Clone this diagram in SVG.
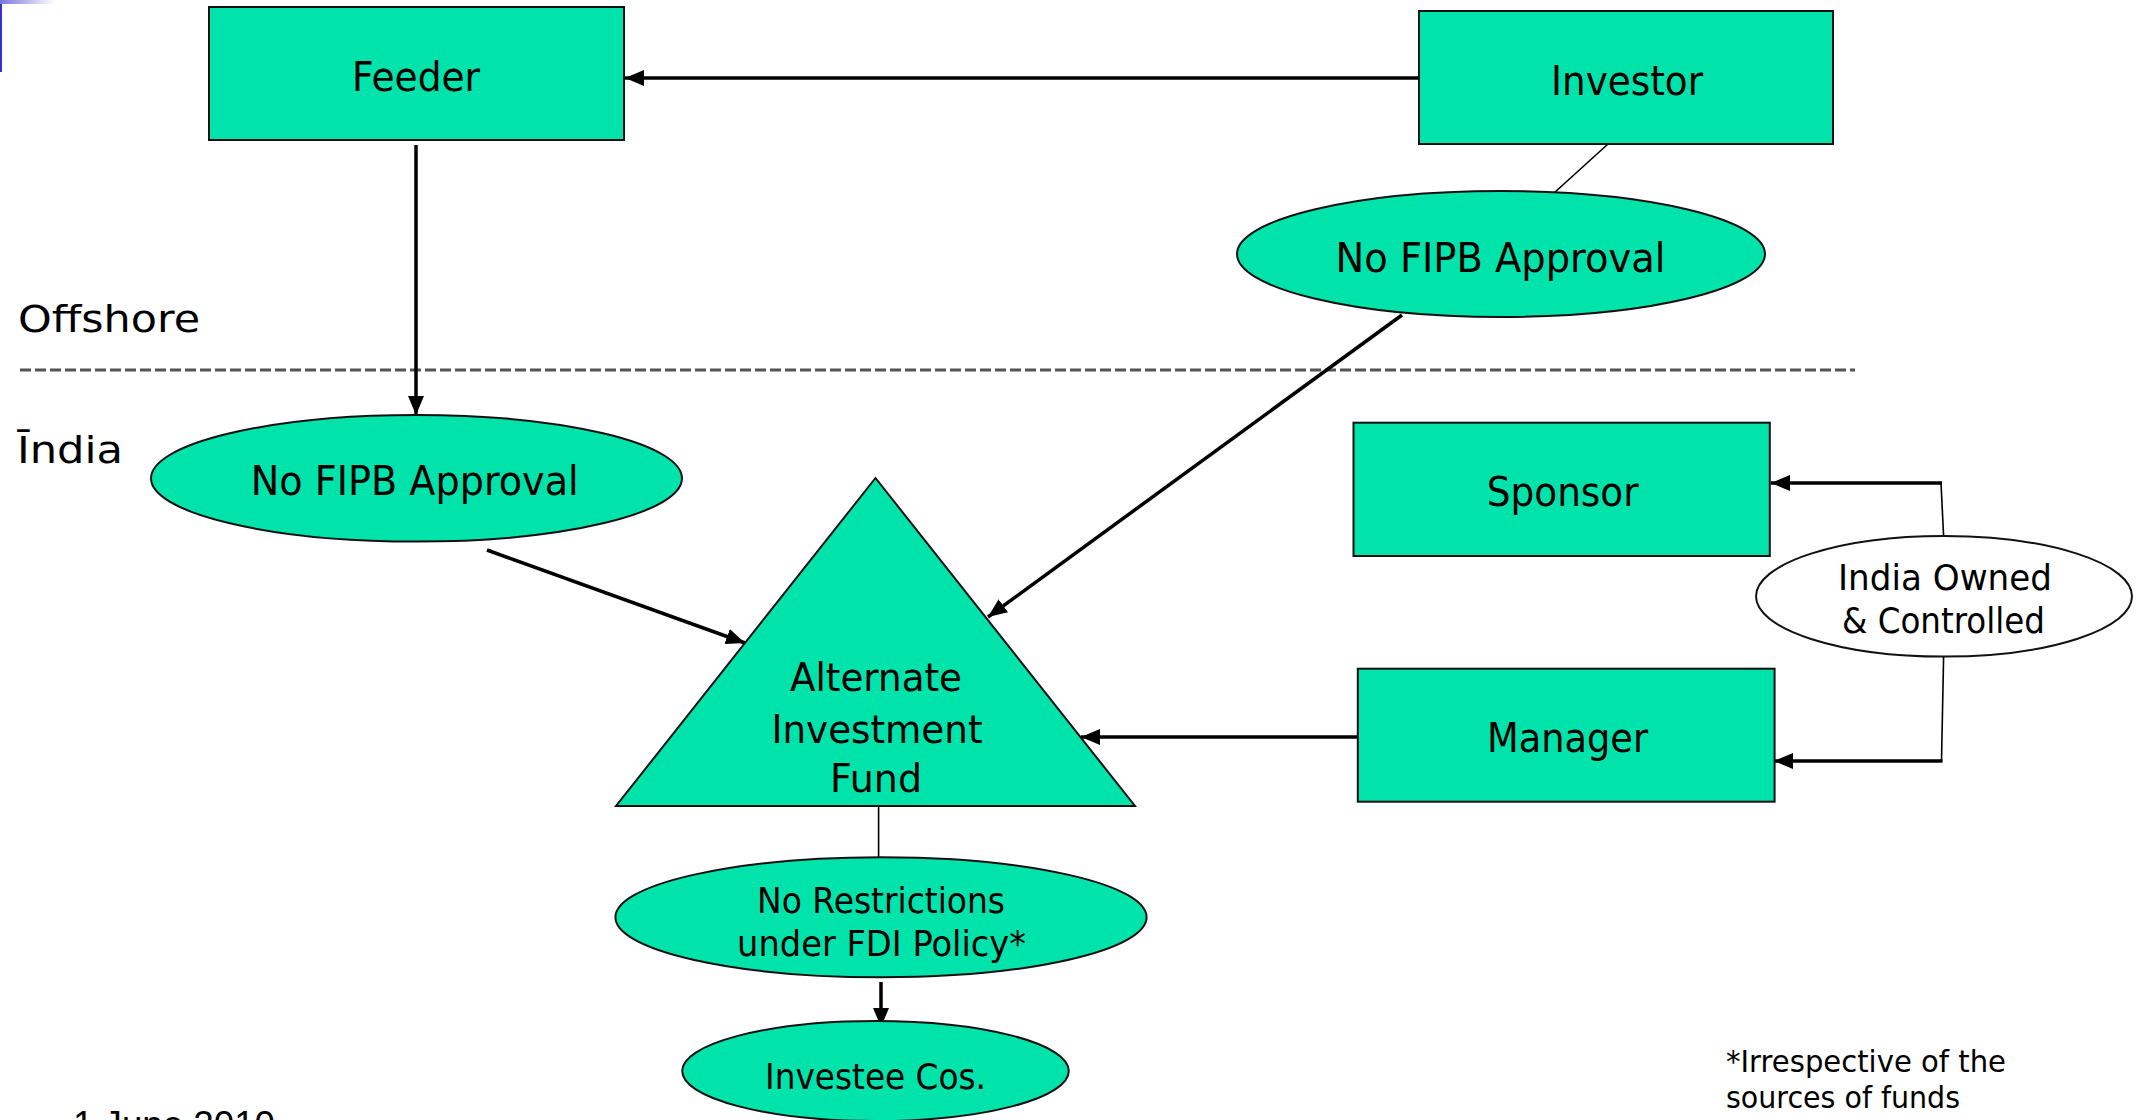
<svg xmlns="http://www.w3.org/2000/svg" width="2139" height="1120" viewBox="0 0 2139 1120">
  <defs>
    <linearGradient id="topFade" x1="0" y1="0" x2="1" y2="0">
      <stop offset="0" stop-color="#7777dd"/>
      <stop offset="1" stop-color="#ffffff"/>
    </linearGradient>
    <marker id="head" markerUnits="userSpaceOnUse" markerWidth="20" markerHeight="16" refX="19" refY="8" orient="auto">
      <path d="M0,0 L19,8 L0,16 z" fill="#000"/>
    </marker>
    <style>
      .box { fill: #00e3aa; stroke: #111; stroke-width: 2; }
      .oval { fill: #00e3aa; stroke: #111; stroke-width: 2; }
      .plain { fill: #ffffff; stroke: #111; stroke-width: 2; }
      .lbl { font-family: "DejaVu Sans", Verdana, sans-serif; fill: #000; text-anchor: middle; }
      .big { font-size: 41px; }
      .mid { font-size: 39px; }
      .small { font-size: 36px; }
      .side { font-family: "DejaVu Sans", Verdana, sans-serif; font-size: 38px; fill: #000; }
      .note { font-family: "DejaVu Sans", Verdana, sans-serif; font-size: 31px; fill: #000; }
      .arrow { stroke: #000; stroke-width: 3.5; fill: none; marker-end: url(#head); }
      .thin { stroke: #000; stroke-width: 1.6; fill: none; }
    </style>
  </defs>

  <rect width="2139" height="1120" fill="#ffffff"/>

  <!-- slide corner ornament -->
  <rect x="0" y="0" width="55" height="4" fill="url(#topFade)"/>
  <rect x="0" y="4" width="2" height="68" fill="#3333cc"/>

  <!-- region labels and divider -->
  <text class="side" x="18" y="331.7" textLength="182" lengthAdjust="spacingAndGlyphs">Offshore</text>
  <line x1="20" y1="370" x2="1855" y2="370" stroke="#555" stroke-width="3" stroke-dasharray="11 4"/>
  <text class="side" x="17" y="463.3" textLength="106" lengthAdjust="spacingAndGlyphs">Īndia</text>

  <!-- connectors -->
  <g id="connectors">
    <line class="arrow" x1="1419" y1="78" x2="625" y2="78"/>
    <line class="arrow" x1="416" y1="145" x2="416" y2="415"/>
    <line class="thin" x1="1608" y1="144" x2="1554" y2="193"/>
    <line class="arrow" x1="1402" y1="315" x2="988" y2="617"/>
    <line class="arrow" x1="487" y1="550" x2="745" y2="643"/>
    <line class="arrow" x1="1357" y1="737" x2="1081" y2="737"/>
    <line class="thin" x1="1943.6" y1="536" x2="1941" y2="483"/>
    <line class="arrow" x1="1942" y1="483" x2="1771" y2="483"/>
    <line class="thin" x1="1943.6" y1="657" x2="1941.5" y2="761"/>
    <line class="arrow" x1="1942.5" y1="761" x2="1774" y2="761"/>
    <line class="thin" x1="878.6" y1="806" x2="878.6" y2="857"/>
    <line class="arrow" x1="881" y1="982" x2="881" y2="1027"/>
  </g>

  <!-- nodes -->
  <g id="feeder">
    <rect class="box" x="209" y="7" width="415" height="133"/>
    <text class="lbl big" x="416" y="90.7" textLength="128" lengthAdjust="spacingAndGlyphs">Feeder</text>
  </g>

  <g id="investor">
    <rect class="box" x="1419" y="11" width="414" height="133"/>
    <text class="lbl big" x="1627" y="95" textLength="152" lengthAdjust="spacingAndGlyphs">Investor</text>
  </g>

  <g id="fipb-offshore">
    <ellipse class="oval" cx="1501" cy="254" rx="264" ry="63"/>
    <text class="lbl big" x="1500.5" y="271.7" textLength="330" lengthAdjust="spacingAndGlyphs">No FIPB Approval</text>
  </g>

  <g id="fipb-india">
    <ellipse class="oval" cx="416.5" cy="478.3" rx="265.5" ry="63.3"/>
    <text class="lbl big" x="414.7" y="495" textLength="328" lengthAdjust="spacingAndGlyphs">No FIPB Approval</text>
  </g>

  <g id="aif">
    <polygon class="box" points="875.5,478 616,806 1135,806"/>
    <text class="lbl mid" x="876" y="690.7" textLength="172" lengthAdjust="spacingAndGlyphs">Alternate</text>
    <text class="lbl mid" x="877" y="742.7" textLength="211" lengthAdjust="spacingAndGlyphs">Investment</text>
    <text class="lbl mid" x="876" y="791.7" textLength="92" lengthAdjust="spacingAndGlyphs">Fund</text>
  </g>

  <g id="sponsor">
    <rect class="box" x="1353.5" y="422.7" width="416.3" height="133.3"/>
    <text class="lbl big" x="1562.7" y="506" textLength="152" lengthAdjust="spacingAndGlyphs">Sponsor</text>
  </g>

  <g id="manager">
    <rect class="box" x="1357.8" y="668.7" width="416.8" height="133"/>
    <text class="lbl big" x="1567.5" y="751.7" textLength="161" lengthAdjust="spacingAndGlyphs">Manager</text>
  </g>

  <g id="india-owned">
    <ellipse class="plain" cx="1944" cy="596.3" rx="188" ry="60.3"/>
    <text class="lbl small" x="1945" y="590" textLength="214" lengthAdjust="spacingAndGlyphs">India Owned</text>
    <text class="lbl small" x="1943.5" y="633.3" textLength="203" lengthAdjust="spacingAndGlyphs">&amp; Controlled</text>
  </g>

  <g id="no-restrictions">
    <ellipse class="oval" cx="881" cy="917.3" rx="265.6" ry="60"/>
    <text class="lbl small" x="881" y="912.7" textLength="248" lengthAdjust="spacingAndGlyphs">No Restrictions</text>
    <text class="lbl small" x="881.6" y="956" textLength="289" lengthAdjust="spacingAndGlyphs">under FDI Policy*</text>
  </g>

  <g id="investee">
    <ellipse class="oval" cx="875.5" cy="1071" rx="193.3" ry="50"/>
    <text class="lbl small" x="875.5" y="1089.3" textLength="221" lengthAdjust="spacingAndGlyphs">Investee Cos.</text>
  </g>

  <!-- footnote and date (the date runs off the lower edge) -->
  <text class="note" x="1726" y="1071.7" textLength="280" lengthAdjust="spacingAndGlyphs">*Irrespective of the</text>
  <text class="note" x="1726" y="1108.3" textLength="234" lengthAdjust="spacingAndGlyphs">sources of funds</text>
  <text x="73" y="1137" font-family="Liberation Sans, Arial, sans-serif" font-size="36" fill="#000" textLength="202" lengthAdjust="spacingAndGlyphs">1 June 2010</text>
</svg>
